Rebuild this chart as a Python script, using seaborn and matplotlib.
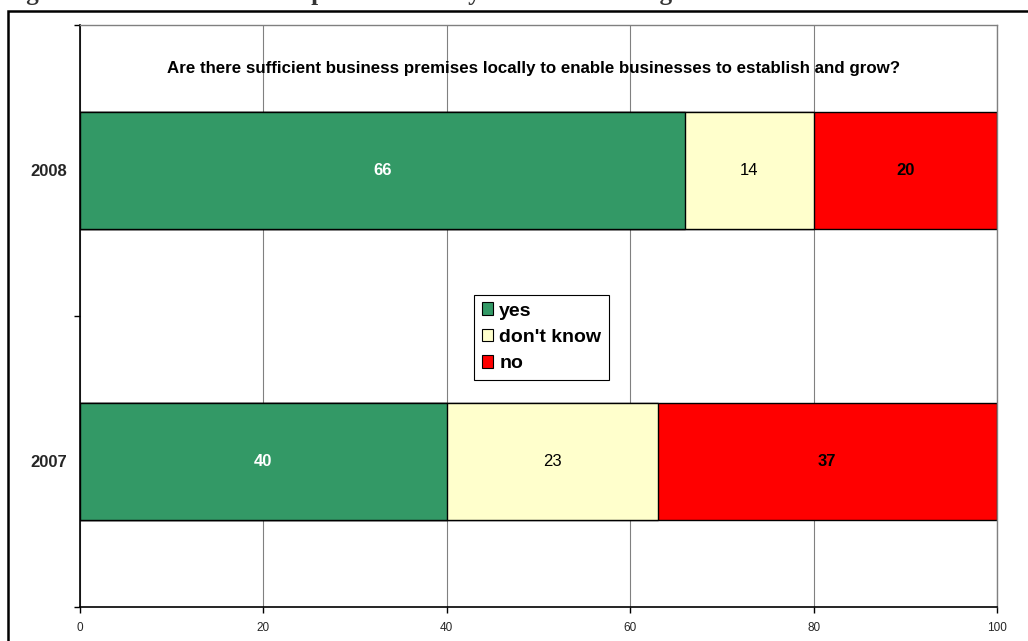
import matplotlib
matplotlib.use("Agg")
import matplotlib.pyplot as plt
import seaborn as sns
import pandas as pd
import numpy as np
from matplotlib.patches import Rectangle, Patch

# Survey responses (% of businesses)
years = ["2008", "2007"]
yes_vals = [66, 40]
dont_know_vals = [14, 23]
no_vals = [20, 37]
x_ticks = [0, 20, 40, 60, 80, 100]

question = ("Are there sufficient business premises locally to enable "
            "businesses to establish and grow?")
caption = "Figure 6: Sufficient business premises locally to establish and grow"

colors = {"yes": "#339966", "don't know": "#FFFFCC", "no": "#FF0000"}

sns.set_theme(style="white")
plt.rcParams["font.family"] = ["Liberation Sans", "DejaVu Sans"]

df = pd.DataFrame({"year": years, "yes": yes_vals,
                   "don't know": dont_know_vals, "no": no_vals})
df["cum_yes"] = df["yes"]
df["cum_dk"] = df["yes"] + df["don't know"]
df["cum_no"] = df["cum_dk"] + df["no"]

fig = plt.figure(figsize=(10.28, 6.41), dpi=100)
ax = fig.add_axes([80 / 1028, 1 - 607 / 641, 917 / 1028, 582 / 641])

# Stacked bars: draw cumulative totals back to front
for col, key in [("cum_no", "no"), ("cum_dk", "don't know"), ("cum_yes", "yes")]:
    sns.barplot(data=df, x=col, y="year", order=years, orient="h",
                color=colors[key], edgecolor="black", linewidth=1.0,
                width=0.4, saturation=1, ax=ax)

# Value labels centred in each segment
label_style = {"yes": dict(color="white", fontweight="bold"),
               "don't know": dict(color="black", fontweight="normal"),
               "no": dict(color="black", fontweight="bold")}
for i, row in df.iterrows():
    left = 0
    for key in ["yes", "don't know", "no"]:
        v = row[key]
        ax.text(left + v / 2, i, f"{v}", ha="center", va="center",
                fontsize=12, **label_style[key])
        left += v

ax.set_xlim(0, 100)
ax.set_ylim(1.5, -0.5)
ax.set_xlabel("")
ax.set_ylabel("")

ax.set_xticks(x_ticks)
ax.set_xticklabels([str(t) for t in x_ticks], fontsize=8.5)
ax.tick_params(axis="x", direction="out", length=4, width=1, color="black",
               pad=7, bottom=True)

ax.set_yticks(range(len(years)))
ax.set_yticklabels(years, fontsize=12, fontweight="bold")
ax.set_yticks([-0.5, 0.5, 1.5], minor=True)
ax.tick_params(axis="y", which="major", length=0, pad=9)
ax.tick_params(axis="y", which="minor", direction="out", length=4, width=1,
               color="black", left=True)

ax.grid(axis="x", color="#808080", linewidth=0.8)
ax.grid(axis="y", visible=False)
ax.set_axisbelow(True)
for side in ["top", "right"]:
    ax.spines[side].set_color("#808080")
    ax.spines[side].set_linewidth(1.0)
for side in ["left", "bottom"]:
    ax.spines[side].set_color("black")
    ax.spines[side].set_linewidth(1.2)

ax.text(0.495, 0.926, question, transform=ax.transAxes, ha="center",
        va="center", fontsize=12.2, fontweight="bold", color="black")

handles = [Patch(facecolor=colors[k], edgecolor="black", linewidth=0.8, label=k)
           for k in ["yes", "don't know", "no"]]
leg = ax.legend(handles=handles, loc="lower left",
                bbox_to_anchor=(0.4297, 0.39, 0.1473, 0.146), mode="expand",
                frameon=True, fancybox=False, framealpha=1, edgecolor="black",
                prop={"weight": "bold", "size": 14}, handlelength=0.6,
                handleheight=0.6, handletextpad=0.3, borderpad=0.4,
                labelspacing=0.48, borderaxespad=0)
leg.get_frame().set_linewidth(0.8)
for t in leg.get_texts():
    t.set_color("black")

# Chart area border and caption line above it
fig.patches.append(Rectangle((8 / 1028, -0.1), 1.2, 1.1 - 10.5 / 641,
                             transform=fig.transFigure, fill=False,
                             edgecolor="black", linewidth=1.8))
fig.text(4 / 1028, 1.0, caption, ha="left", va="baseline",
         fontsize=18, fontweight="bold", color="#333333",
         family=["Liberation Serif", "DejaVu Serif"])

fig.savefig("out.png", dpi=100, facecolor="white")
